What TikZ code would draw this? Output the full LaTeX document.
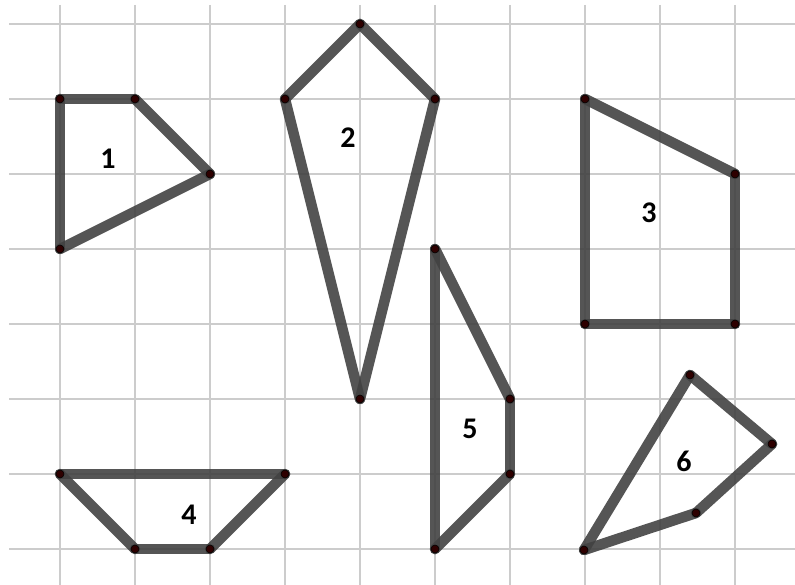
\documentclass[tikz,border=0pt]{standalone}
\usepackage{fontspec}
\setmainfont{Carlito}
\begin{document}
\begin{tikzpicture}[x=1pt,y=-1pt,
  gridline/.style={draw=black!20,line width=1.5pt},
  edge/.style={draw=black!74,line width=10.5pt,opacity=0.9,line join=round,line cap=round},
  vtx/.style={circle,fill=black!70!red!60!black,draw=black,line width=0.6pt,inner sep=0pt,minimum size=8pt},
  lbl/.style={font=\fontsize{30}{30}\selectfont\bfseries,inner sep=0pt,anchor=base},
  ]
\useasboundingbox (0,0) rectangle (795,585);
% grid
\foreach \x in {60,135,...,735} \draw[gridline] (\x,5) -- (\x,585);
\foreach \y in {24,99,...,549} \draw[gridline] (9,\y) -- (795,\y);
% vertices
\coordinate (a1) at (60,99); \coordinate (a2) at (135,99); \coordinate (a3) at (210,174); \coordinate (a4) at (60,249);
\coordinate (b1) at (285,99); \coordinate (b2) at (360,24); \coordinate (b3) at (435,99); \coordinate (b4) at (360,399);
\coordinate (c1) at (585,99); \coordinate (c2) at (735,174); \coordinate (c3) at (735,324); \coordinate (c4) at (585,324);
\coordinate (d1) at (60,474); \coordinate (d2) at (285,474); \coordinate (d3) at (210,549); \coordinate (d4) at (135,549);
\coordinate (e1) at (435,249); \coordinate (e2) at (510,399); \coordinate (e3) at (510,474); \coordinate (e4) at (435,549);
\coordinate (f1) at (690,375); \coordinate (f2) at (772,444); \coordinate (f3) at (696,513); \coordinate (f4) at (584,550);
% edges
\foreach \s in {a,b,c,d,e,f} {
  \draw[edge] (\s1) -- (\s2); \draw[edge] (\s2) -- (\s3); \draw[edge] (\s3) -- (\s4); \draw[edge] (\s4) -- (\s1);
}
% dots
\foreach \s in {a,b,c,d,e,f} \foreach \i in {1,2,3,4} \node[vtx] (v\s\i) at (\s\i) {};
% labels (base line = glyph bottom)
\node[lbl] (l1) at (108,169) {1};
\node[lbl] (l2) at (348,148) {2};
\node[lbl] (l3) at (649,223) {3};
\node[lbl] (l4) at (189,524) {4};
\node[lbl] (l5) at (470,438) {5};
\node[lbl] (l6) at (684,471) {6};
\end{tikzpicture}
\end{document}
